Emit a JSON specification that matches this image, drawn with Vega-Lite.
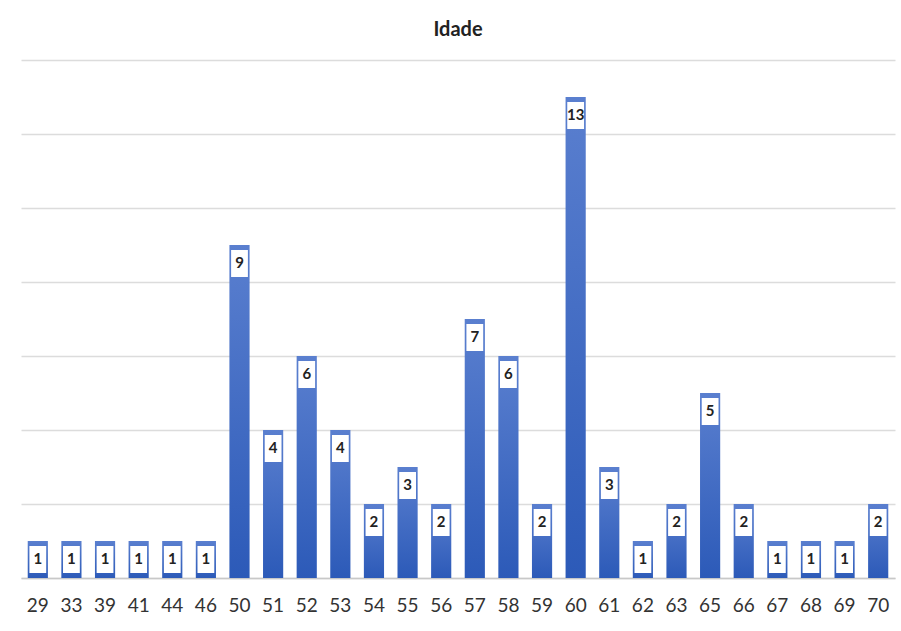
{
  "$schema": "https://vega.github.io/schema/vega-lite/v6.json",
  "autosize": {"type": "none"},
  "width": 874,
  "height": 518,
  "padding": {"left": 21, "top": 60, "right": 6, "bottom": 53},
  "background": "white",
  "title": {"text": "Idade", "font": "Lato", "fontSize": 20, "fontWeight": "bold", "color": "#222222", "offset": 20, "anchor": "middle"},
  "config": {"view": {"stroke": null}},
  "data": {"values": [
    {"idade": "29", "n": 1}, {"idade": "33", "n": 1}, {"idade": "39", "n": 1}, {"idade": "41", "n": 1},
    {"idade": "44", "n": 1}, {"idade": "46", "n": 1}, {"idade": "50", "n": 9}, {"idade": "51", "n": 4},
    {"idade": "52", "n": 6}, {"idade": "53", "n": 4}, {"idade": "54", "n": 2}, {"idade": "55", "n": 3},
    {"idade": "56", "n": 2}, {"idade": "57", "n": 7}, {"idade": "58", "n": 6}, {"idade": "59", "n": 2},
    {"idade": "60", "n": 13}, {"idade": "61", "n": 3}, {"idade": "62", "n": 1}, {"idade": "63", "n": 2},
    {"idade": "65", "n": 5}, {"idade": "66", "n": 2}, {"idade": "67", "n": 1}, {"idade": "68", "n": 1},
    {"idade": "69", "n": 1}, {"idade": "70", "n": 2}
  ]},
  "encoding": {
    "x": {"field": "idade", "type": "ordinal", "sort": null, "title": null,
      "scale": {"paddingInner": 0, "paddingOuter": 0},
      "axis": {"labelAngle": 0, "ticks": false, "domainColor": "#c8c8c8", "domainWidth": 1.5, "labelFont": "Lato", "labelFontSize": 19, "labelColor": "#333333", "labelPadding": 18}},
    "y": {"field": "n", "type": "quantitative", "title": null,
      "scale": {"domain": [0, 14], "nice": false},
      "axis": {"values": [0, 2, 4, 6, 8, 10, 12, 14], "labels": false, "ticks": false, "domain": false, "gridColor": "#dcdcdc", "gridWidth": 1.5}}
  },
  "layer": [
    {"mark": {"type": "bar", "width": {"band": 0.6},
      "color": {"gradient": "linear", "x1": 0, "y1": 0, "x2": 0, "y2": 1,
        "stops": [{"offset": 0, "color": "#5a7fcf"}, {"offset": 1, "color": "#2c5ab8"}]}}},
    {"mark": {"type": "bar", "width": {"band": 0.5}, "color": "white", "yOffset": 5, "y2Offset": 32},
      "encoding": {"y2": {"field": "n"}}},
    {"mark": {"type": "text", "font": "Lato", "fontSize": 15, "fontWeight": "bold", "color": "#222222", "baseline": "middle", "dy": 18},
      "encoding": {"text": {"field": "n", "type": "quantitative"}}}
  ]
}
